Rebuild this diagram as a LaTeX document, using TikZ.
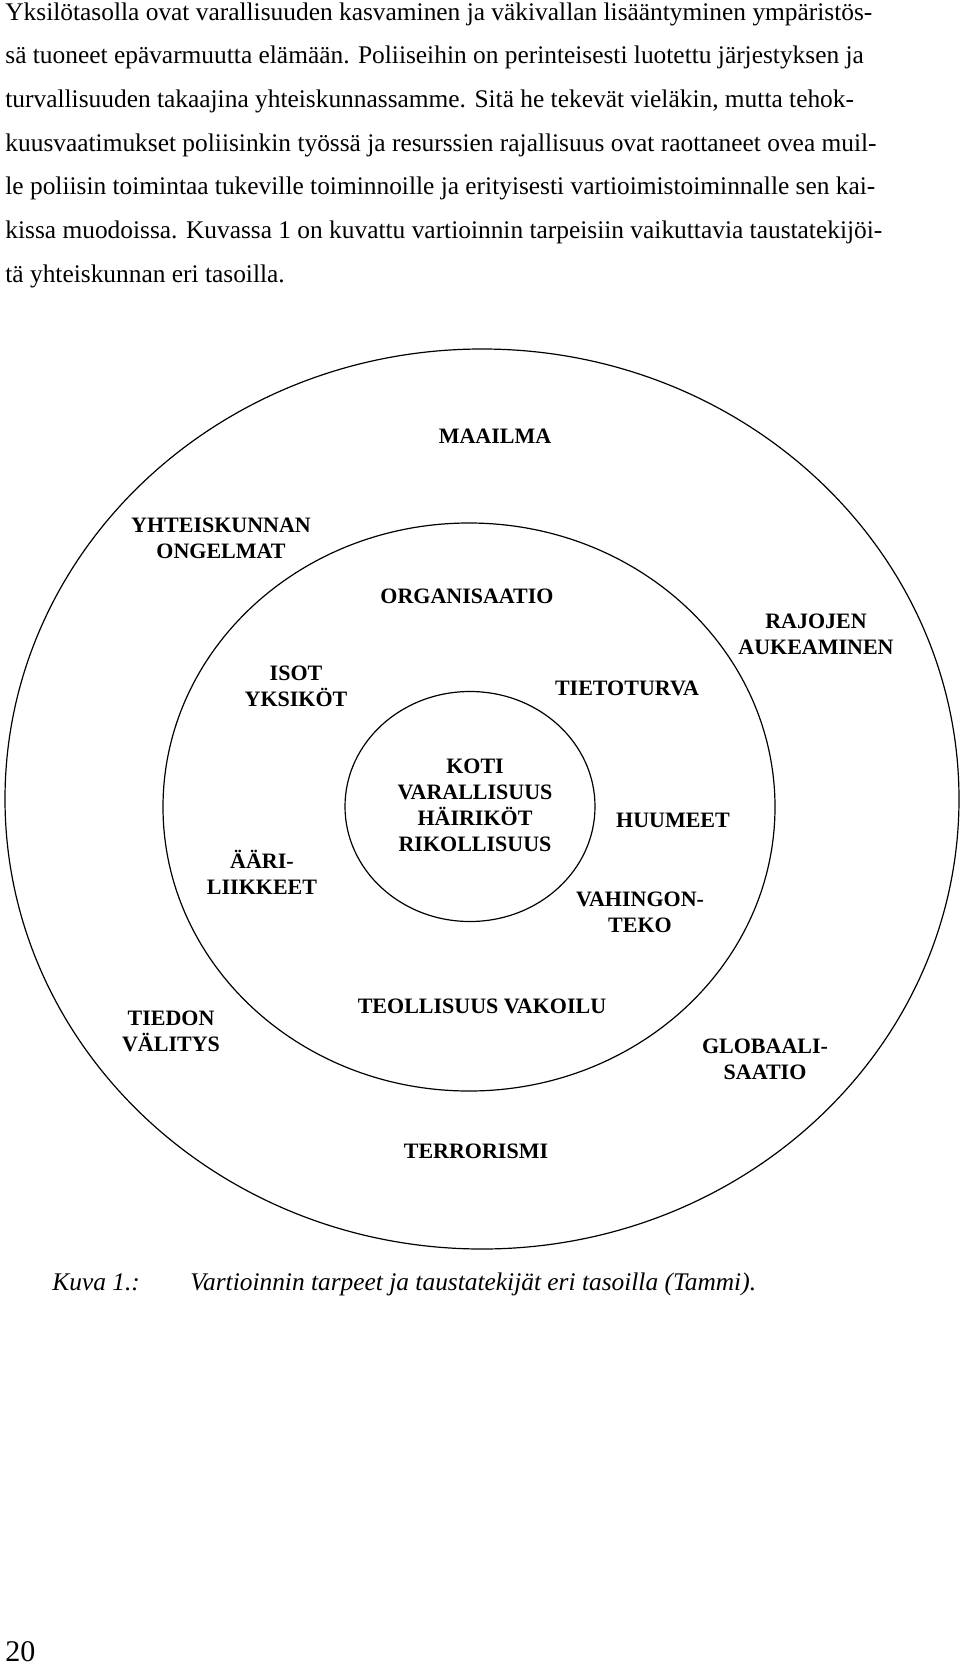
\documentclass[tikz,border=0pt]{standalone}
\usepackage{fontspec}
\setmainfont{Liberation Serif}
\tikzset{
  ring/.style={draw=black, line width=0.6pt},
  lbl/.style={font=\bfseries\fontsize{11}{13}\selectfont, align=center, inner sep=0pt},
  body/.style={font=\fontsize{12.7}{15}\selectfont, anchor=base west, inner sep=0pt},
  captxt/.style={font=\itshape\fontsize{12.7}{15}\selectfont, anchor=base west, inner sep=0pt}
}
\begin{document}
\begin{tikzpicture}[x=0.5pt,y=-0.5pt]
\useasboundingbox (0,0) rectangle (960,1665);
% body text
\node[body] (t1) at (5,20) {Yksilötasolla ovat varallisuuden kasvaminen ja väkivallan lisääntyminen ympäristös-};
\node[body] (t2) at (5,63.7) {sä tuoneet epävarmuutta elämään. Poliiseihin on perinteisesti luotettu järjestyksen ja};
\node[body] (t3) at (5,107.4) {turvallisuuden takaajina yhteiskunnassamme. Sitä he tekevät vieläkin, mutta tehok-};
\node[body] (t4) at (5,151.1) {kuusvaatimukset poliisinkin työssä ja resurssien rajallisuus ovat raottaneet ovea muil-};
\node[body] (t5) at (5,194.8) {le poliisin toimintaa tukeville toiminnoille ja erityisesti vartioimistoiminnalle sen kai-};
\node[body] (t6) at (5,238.5) {kissa muodoissa. Kuvassa 1 on kuvattu vartioinnin tarpeisiin vaikuttavia taustatekijöi-};
\node[body] (t7) at (5,282.2) {tä yhteiskunnan eri tasoilla.};
% rings
\draw[ring] (482,799) ellipse [x radius=238.5pt, y radius=225pt];
\draw[ring] (469,807) ellipse [x radius=153pt, y radius=142pt];
\draw[ring] (470,806.5) ellipse [x radius=62.5pt, y radius=57.5pt];
% labels
\node[lbl] (maailma) at (495,436) {MAAILMA};
\node[lbl] (yht) at (221,538) {YHTEISKUNNAN\\ONGELMAT};
\node[lbl] (org) at (467,596) {ORGANISAATIO};
\node[lbl] (raj) at (816,634) {RAJOJEN\\AUKEAMINEN};
\node[lbl] (isot) at (296,686) {ISOT\\YKSIKÖT};
\node[lbl] (tieto) at (627,688) {TIETOTURVA};
\node[lbl] (koti) at (475,805) {KOTI\\VARALLISUUS\\HÄIRIKÖT\\RIKOLLISUUS};
\node[lbl] (huu) at (673,820) {HUUMEET};
\node[lbl] (aari) at (262,872) {ÄÄRI-\\LIIKKEET};
\node[lbl] (vah) at (640,912) {VAHINGON-\\TEKO};
\node[lbl] (teol) at (482,1006) {TEOLLISUUS VAKOILU};
\node[lbl] (tied) at (171,1031) {TIEDON\\VÄLITYS};
\node[lbl] (glob) at (765,1059) {GLOBAALI-\\SAATIO};
\node[lbl] (terr) at (476,1151) {TERRORISMI};
% caption
\node[captxt] (kuva) at (52,1290) {Kuva 1.:};
\node[captxt] (capt) at (190,1290) {Vartioinnin tarpeet ja taustatekijät eri tasoilla (Tammi).};
% page number
\node[font=\fontsize{15}{18}\selectfont, anchor=base west, inner sep=0pt] (pg) at (5,1661) {20};
\end{tikzpicture}
\end{document}
